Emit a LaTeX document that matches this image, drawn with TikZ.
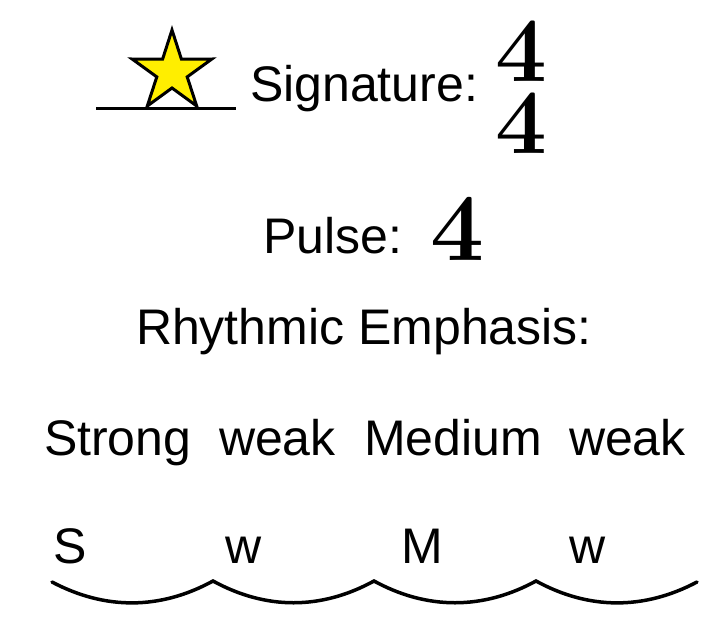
\documentclass[tikz,border=0pt]{standalone}
\usepackage{fontspec}
\newfontfamily\arial{Liberation Sans}
\definecolor{staryellow}{HTML}{FFEE00}
\tikzset{
  lbl/.style={anchor=base west, inner sep=0pt, outer sep=0pt, font=\arial\fontsize{50}{58}\selectfont},
  four/.style={anchor=base west, inner sep=0pt, outer sep=0pt, font=\bfseries\fontsize{92}{100}\selectfont},
  arcline/.style={line width=3.5pt, line cap=round},
}
\begin{document}
\begin{tikzpicture}[x=1pt,y=-1pt]
\useasboundingbox (0,0) rectangle (728,616);
% blank line and star
\coordinate (u1) at (96,108);
\coordinate (u2) at (236,108);
\draw[line width=3pt] (u1) -- (u2);
\draw[line width=3pt, line join=miter, fill=staryellow]
  (172,30) -- (181.4,59.1) -- (211.9,59) -- (187.2,76.9) -- (196.7,106)
  -- (172,88) -- (147.3,106) -- (156.8,76.9) -- (132.1,59) -- (162.6,59.1) -- cycle;
\node[lbl] (sig) at (250,101) {Signature:};
\node[inner sep=0pt, outer sep=0pt, anchor=north, align=center,
      font=\bfseries\fontsize{92}{72}\selectfont] (meter) at (521,21) {4\\4};
\node[lbl] (pulse) at (263,253) {Pulse:};
\node[four, font=\bfseries\fontsize{96}{100}\selectfont] (n3) at (430,260) {4};
\node[lbl] (rhy) at (136,344) {Rhythmic Emphasis:};
\node[lbl] (w1) at (44,455) {Strong};
\node[lbl] (w2) at (219,455) {weak};
\node[lbl] (w3) at (364,455) {Medium};
\node[lbl] (w4) at (569,455) {weak};
\node[lbl] (s1) at (53,563) {S};
\node[lbl] (s2) at (225,563) {w};
\node[lbl] (s3) at (401,563) {M};
\node[lbl] (s4) at (569,563) {w};
\coordinate (a0) at (52,582);
\coordinate (a1) at (213,581);
\coordinate (a2) at (374,581);
\coordinate (a3) at (536,581);
\coordinate (a4) at (697,582);
\draw[arcline] (a0) .. controls (105,610) and (160,610) .. (a1)
  .. controls (266,610) and (321,610) .. (a2)
  .. controls (427,610) and (483,610) .. (a3)
  .. controls (589,610) and (644,610) .. (a4);
\end{tikzpicture}
\end{document}
